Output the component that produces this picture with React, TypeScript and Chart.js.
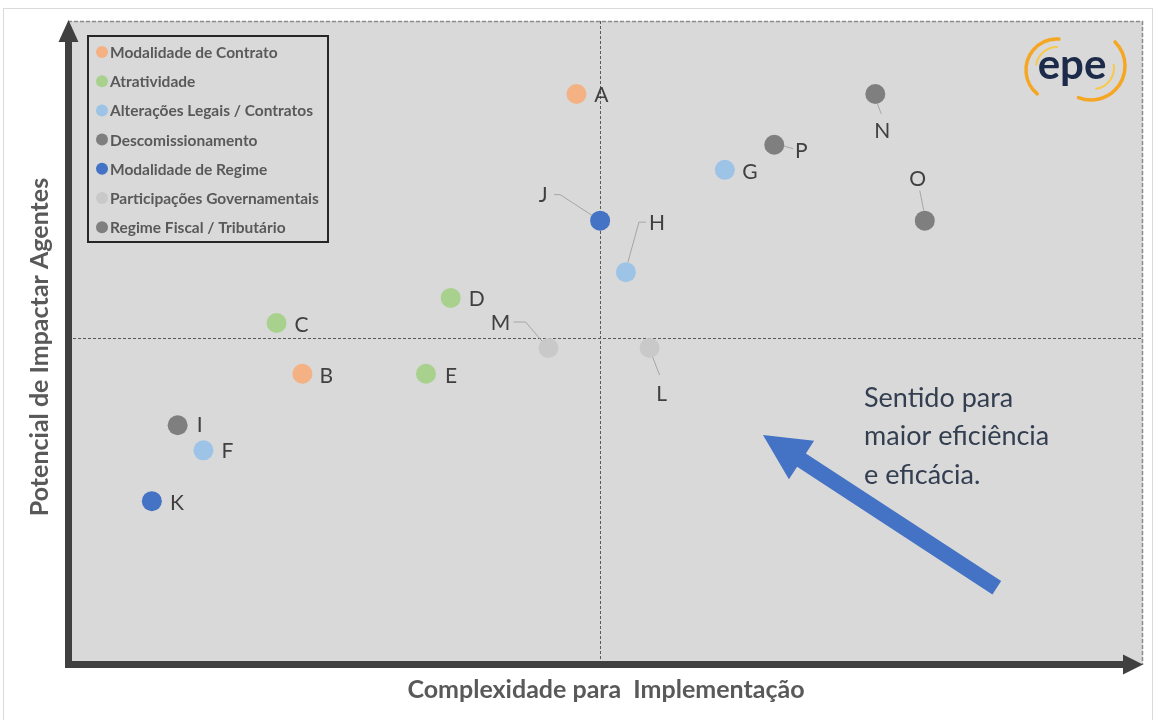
import React, { useEffect, useRef } from 'react';
import { Chart, registerables } from 'chart.js';

Chart.register(...registerables);

// ---- Data ----
const seriesNames = [
  'Modalidade de Contrato',
  'Atratividade',
  'Alterações Legais / Contratos',
  'Descomissionamento',
  'Modalidade de Regime',
  'Participações Governamentais',
  'Regime Fiscal / Tributário',
];
const seriesColors = ['#F4B183', '#A9D18E', '#9DC3E6', '#7F7F7F', '#4472C4', '#C9C9C9', '#7F7F7F'];

const contratoLabels = ['A', 'B'];
const contratoX = [4.73, 2.18];
const contratoY = [7.98, 4.07];

const atratividadeLabels = ['C', 'D', 'E'];
const atratividadeX = [1.94, 3.56, 3.33];
const atratividadeY = [4.78, 5.13, 4.07];

const alteracoesLabels = ['F', 'G', 'H'];
const alteracoesX = [1.26, 6.11, 5.19];
const alteracoesY = [3.0, 6.92, 5.49];

const descomLabels = ['N', 'O', 'P'];
const descomX = [7.51, 7.97, 6.57];
const descomY = [7.98, 6.21, 7.27];

const regimeLabels = ['J', 'K'];
const regimeX = [4.95, 0.78];
const regimeY = [6.21, 2.29];

const participLabels = ['L', 'M'];
const participX = [5.41, 4.47];
const participY = [4.43, 4.43];

const fiscalLabels = ['I'];
const fiscalX = [1.02];
const fiscalY = [3.35];

const seriesLabels = [contratoLabels, atratividadeLabels, alteracoesLabels, descomLabels, regimeLabels, participLabels, fiscalLabels];
const seriesX = [contratoX, atratividadeX, alteracoesX, descomX, regimeX, participX, fiscalX];
const seriesY = [contratoY, atratividadeY, alteracoesY, descomY, regimeY, participY, fiscalY];

const xMin = 0;
const xMax = 10;
const yMin = 0;
const yMax = 9;
const crossX = 4.95;
const crossY = 4.57;

const xTitle = 'Complexidade para  Implementação';
const yTitle = 'Potencial de Impactar Agentes';
const noteLines = ['Sentido para', 'maior eficiência', 'e eficácia.'];
// annotation arrow (data units): tail -> tip
const arrowTail = [8.64, 1.08];
const arrowTip = [6.465, 3.215];
const notePos = [7.405, 3.73];

// ---- Label placement (pixel offsets from the point) ----
const labelStyle: Record<string, { dx: number; dy: number; leader?: number[][] }> = {
  A: { dx: 25, dy: 1 },
  B: { dx: 24, dy: 2 },
  C: { dx: 25, dy: 2 },
  D: { dx: 26, dy: 1 },
  E: { dx: 25, dy: 2 },
  F: { dx: 24, dy: 1 },
  G: { dx: 25, dy: 2 },
  H: { dx: 31, dy: -49, leader: [[2, -10], [13, -50], [20, -50]] },
  I: { dx: 22, dy: 0 },
  J: { dx: -57, dy: -25, leader: [[-46, -26], [-40, -26], [0, 0]] },
  K: { dx: 25, dy: 2 },
  L: { dx: 12, dy: 46, leader: [[3, 9], [10, 27]] },
  M: { dx: -48, dy: -25, leader: [[-35, -26], [-23, -26], [-4, -4]] },
  N: { dx: 7, dy: 37, leader: [[1, 7], [6, 20]] },
  O: { dx: -7, dy: -41, leader: [[-5, -30], [-1, -10]] },
  P: { dx: 27, dy: 6, leader: [[9, 1], [19, 4]] },
};

const FONT = "Lato, 'Open Sans', sans-serif";

const decorPlugin = {
  id: 'decor',
  beforeDraw(chart: any) {
    const { ctx, chartArea: a } = chart;
    const xs = chart.scales.x;
    const ys = chart.scales.y;
    ctx.save();
    ctx.fillStyle = '#ffffff';
    ctx.fillRect(0, 0, chart.width, chart.height);
    // faint frame
    ctx.strokeStyle = '#DADADA';
    ctx.lineWidth = 1;
    ctx.strokeRect(3.5, 8.5, chart.width - 6, chart.height - 4);
    // plot background
    ctx.fillStyle = '#D9D9D9';
    ctx.fillRect(a.left, a.top, a.right - a.left, a.bottom - a.top);
    // dashed border top/right
    ctx.strokeStyle = '#8C8C8C';
    ctx.lineWidth = 1.5;
    ctx.setLineDash([4, 2]);
    ctx.beginPath();
    ctx.moveTo(a.left, a.top + 0.5);
    ctx.lineTo(a.right - 0.5, a.top + 0.5);
    ctx.lineTo(a.right - 0.5, a.bottom);
    ctx.stroke();
    // crosshair
    ctx.strokeStyle = '#595959';
    ctx.lineWidth = 1;
    ctx.setLineDash([3, 2]);
    const cx = Math.round(xs.getPixelForValue(crossX)) + 0.5;
    const cy = Math.round(ys.getPixelForValue(crossY)) + 0.5;
    ctx.beginPath();
    ctx.moveTo(cx, a.top);
    ctx.lineTo(cx, a.bottom);
    ctx.moveTo(a.left, cy);
    ctx.lineTo(a.right, cy);
    ctx.stroke();
    ctx.setLineDash([]);
    ctx.restore();
  },
  beforeDatasetsDraw(chart: any) {
    const { ctx } = chart;
    ctx.save();
    ctx.strokeStyle = '#A6A6A6';
    ctx.lineWidth = 1;
    chart.data.datasets.forEach((ds: any, di: number) => {
      const meta = chart.getDatasetMeta(di);
      meta.data.forEach((el: any, i: number) => {
        const st = labelStyle[ds.pointLabels[i]];
        if (st && st.leader) {
          ctx.beginPath();
          st.leader.forEach((p, k) => {
            const px = el.x + p[0];
            const py = el.y + p[1];
            if (k === 0) ctx.moveTo(px, py);
            else ctx.lineTo(px, py);
          });
          ctx.stroke();
        }
      });
    });
    ctx.restore();
  },
  afterDatasetsDraw(chart: any) {
    const { ctx, chartArea: a } = chart;
    const xs = chart.scales.x;
    const ys = chart.scales.y;
    ctx.save();
    // point labels
    ctx.fillStyle = '#404040';
    ctx.font = `21px ${FONT}`;
    ctx.textAlign = 'center';
    ctx.textBaseline = 'middle';
    chart.data.datasets.forEach((ds: any, di: number) => {
      const meta = chart.getDatasetMeta(di);
      meta.data.forEach((el: any, i: number) => {
        const lab = ds.pointLabels[i];
        const st = labelStyle[lab] || { dx: 24, dy: 0 };
        ctx.fillText(lab, el.x + st.dx, el.y + st.dy);
      });
    });

    // legend box
    const lx = 88, ly = 36, lw = 240, lh = 206;
    ctx.strokeStyle = '#262626';
    ctx.lineWidth = 2;
    ctx.strokeRect(lx, ly, lw, lh);
    ctx.font = `bold 15.5px ${FONT}`;
    ctx.textAlign = 'left';
    chart.data.datasets.forEach((ds: any, di: number) => {
      const yy = 52 + di * 29.2;
      ctx.fillStyle = ds.backgroundColor;
      ctx.beginPath();
      ctx.arc(102, yy, 6, 0, Math.PI * 2);
      ctx.fill();
      ctx.fillStyle = '#595959';
      ctx.fillText(ds.label, 110, yy + 1);
    });

    // logo
    const lcx = 1071, lcy = 68;
    ctx.lineCap = 'round';
    ctx.strokeStyle = '#F5A623';
    ctx.lineWidth = 3.5;
    ctx.beginPath();
    ctx.arc(lcx - 14, lcy + 2, 31, Math.PI * 0.72, Math.PI * 1.52);
    ctx.stroke();
    ctx.strokeStyle = '#F8C84A';
    ctx.lineWidth = 2;
    ctx.beginPath();
    ctx.arc(lcx - 14, lcy, 21, Math.PI * 1.05, Math.PI * 1.5);
    ctx.stroke();
    ctx.strokeStyle = '#F5A623';
    ctx.lineWidth = 3.5;
    ctx.beginPath();
    ctx.arc(lcx + 20, lcy - 2, 34, -Math.PI * 0.25, Math.PI * 0.62);
    ctx.stroke();
    ctx.strokeStyle = '#F8C84A';
    ctx.lineWidth = 2;
    ctx.beginPath();
    ctx.arc(lcx + 22, lcy, 21, -Math.PI * 0.05, Math.PI * 0.45);
    ctx.stroke();
    ctx.fillStyle = '#1C2B4A';
    ctx.font = `bold 42px ${FONT}`;
    ctx.textAlign = 'center';
    ctx.textBaseline = 'middle';
    ctx.fillText('epe', lcx + 1, lcy - 3);

    // annotation arrow
    const tx = xs.getPixelForValue(arrowTip[0]);
    const ty = ys.getPixelForValue(arrowTip[1]);
    const sx = xs.getPixelForValue(arrowTail[0]);
    const sy = ys.getPixelForValue(arrowTail[1]);
    const len = Math.hypot(sx - tx, sy - ty);
    const ux = (sx - tx) / len, uy = (sy - ty) / len;
    const px = -uy, py = ux;
    const headLen = 46, headW = 23, shaftW = 8;
    const bx = tx + ux * headLen, by = ty + uy * headLen;
    ctx.fillStyle = '#4472C4';
    ctx.beginPath();
    ctx.moveTo(tx, ty);
    ctx.lineTo(bx + px * headW, by + py * headW);
    ctx.lineTo(bx + px * shaftW, by + py * shaftW);
    ctx.lineTo(sx + px * shaftW, sy + py * shaftW);
    ctx.lineTo(sx - px * shaftW, sy - py * shaftW);
    ctx.lineTo(bx - px * shaftW, by - py * shaftW);
    ctx.lineTo(bx - px * headW, by - py * headW);
    ctx.closePath();
    ctx.fill();

    // note text
    ctx.fillStyle = '#333F50';
    ctx.font = `27px ${FONT}`;
    ctx.textAlign = 'left';
    ctx.textBaseline = 'middle';
    const nx = xs.getPixelForValue(notePos[0]);
    const ny = ys.getPixelForValue(notePos[1]);
    noteLines.forEach((t, i) => ctx.fillText(t, nx, ny + i * 38.5));

    // axes with arrows
    ctx.fillStyle = '#404040';
    const axX = a.left + 0.5;
    const axY = a.bottom - 0.5;
    ctx.fillRect(axX - 3.5, a.top + 20, 7, axY + 3.5 - (a.top + 20));
    ctx.fillRect(axX - 3.5, axY - 3.5, a.right - 19 - (axX - 3.5), 7);
    ctx.beginPath();
    ctx.moveTo(axX, a.top - 1);
    ctx.lineTo(axX + 10, a.top + 21);
    ctx.lineTo(axX - 10, a.top + 21);
    ctx.closePath();
    ctx.fill();
    ctx.beginPath();
    ctx.moveTo(a.right, axY);
    ctx.lineTo(a.right - 20, axY - 10);
    ctx.lineTo(a.right - 20, axY + 10);
    ctx.closePath();
    ctx.fill();

    // axis titles
    ctx.fillStyle = '#595959';
    ctx.font = `bold 25px ${FONT}`;
    ctx.textAlign = 'center';
    ctx.textBaseline = 'middle';
    ctx.fillText(xTitle, 606, a.bottom + 25);
    ctx.translate(40, 347);
    ctx.rotate(-Math.PI / 2);
    ctx.fillText(yTitle, 0, 0);
    ctx.restore();
  },
};

export default function App() {
  const ref = useRef<HTMLCanvasElement>(null);
  useEffect(() => {
    if (!ref.current) return;
    const datasets = seriesNames.map((name, si) => ({
      label: name,
      data: seriesX[si].map((x, i) => ({ x, y: seriesY[si][i] })),
      pointLabels: seriesLabels[si],
      backgroundColor: seriesColors[si],
      borderColor: seriesColors[si],
      borderWidth: 0,
      pointRadius: 10,
      pointHoverRadius: 10,
    }));
    const chart = new Chart(ref.current, {
      type: 'scatter',
      data: { datasets } as any,
      options: {
        animation: false,
        responsive: false,
        events: [],
        layout: { padding: { left: 68, top: 21, right: 12, bottom: 55 } },
        scales: {
          x: { type: 'linear', min: xMin, max: xMax, display: false },
          y: { type: 'linear', min: yMin, max: yMax, display: false },
        },
        plugins: { legend: { display: false }, tooltip: { enabled: false }, title: { display: false } },
      },
      plugins: [decorPlugin],
    });
    return () => chart.destroy();
  }, []);
  return (
    <div style={{ position: 'fixed', left: 0, top: 0, width: 1155, height: 720, background: '#fff' }}>
      <canvas ref={ref} width={1155} height={720} style={{ display: 'block', width: 1155, height: 720 }} />
    </div>
  );
}
